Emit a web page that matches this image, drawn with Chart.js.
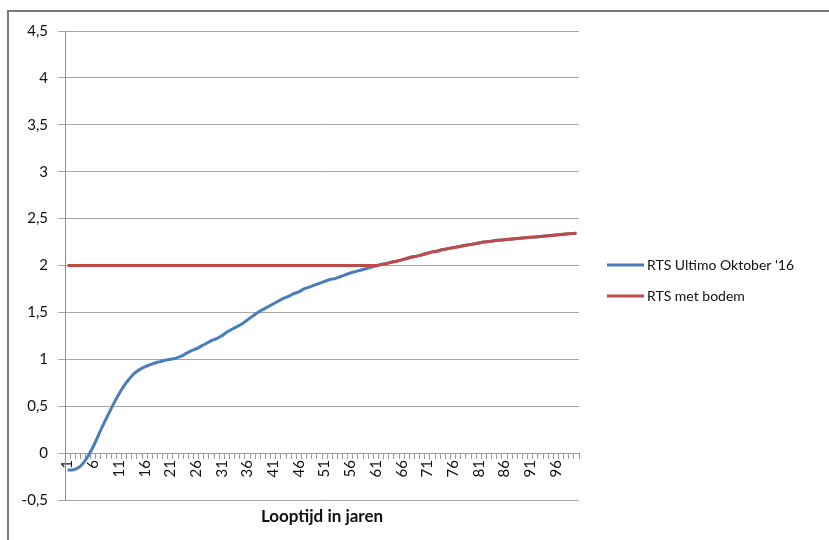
<!DOCTYPE html>
<html>
<head>
<meta charset="utf-8">
<script src="https://cdn.jsdelivr.net/npm/chart.js@4.4.1/dist/chart.umd.min.js"></script>
<style>
    html, body { margin: 0; padding: 0; background: #fff; }
    #wrap { position: relative; width: 829px; height: 540px; overflow: hidden; }
    #frame { position: absolute; left: 7px; top: 10px; width: 840px; height: 560px;
             border-left: 2px solid #7a7a7a; border-top: 2px solid #7a7a7a; }
    canvas { position: absolute; left: 0; top: 0; }
</style>
</head>
<body>
<div id="wrap">
    <div id="frame"></div>
    <canvas id="rtsChart" width="829" height="540"></canvas>
</div>
<script>
// Looptijd in jaren 1..100
const years = Array.from({length: 100}, (_, i) => String(i + 1));

const yTicks = [-0.5, 0, 0.5, 1, 1.5, 2, 2.5, 3, 3.5, 4, 4.5];

const rtsUltimo = [
    -0.18, -0.18, -0.16, -0.11, -0.03, 0.07, 0.19, 0.31, 0.42, 0.53,
    0.63, 0.72, 0.79, 0.85, 0.89, 0.92, 0.94, 0.96, 0.975, 0.99,
    1.00, 1.01, 1.03, 1.06, 1.09, 1.11, 1.14, 1.17, 1.20, 1.22,
    1.25, 1.29, 1.32, 1.35, 1.38, 1.42, 1.46, 1.50, 1.53, 1.56,
    1.59, 1.62, 1.65, 1.67, 1.70, 1.72, 1.75, 1.77, 1.79, 1.81,
    1.83, 1.85, 1.86, 1.88, 1.90, 1.92, 1.935, 1.95, 1.965, 1.98,
    1.995, 2.01, 2.02, 2.035, 2.045, 2.06, 2.075, 2.09, 2.10, 2.115,
    2.13, 2.145, 2.155, 2.17, 2.18, 2.19, 2.20, 2.21, 2.22, 2.23,
    2.24, 2.25, 2.255, 2.265, 2.27, 2.275, 2.28, 2.285, 2.29, 2.295,
    2.30, 2.305, 2.31, 2.315, 2.32, 2.325, 2.33, 2.335, 2.34, 2.345
];

const rtsBodem = [
    2, 2, 2, 2, 2, 2, 2, 2, 2, 2,
    2, 2, 2, 2, 2, 2, 2, 2, 2, 2,
    2, 2, 2, 2, 2, 2, 2, 2, 2, 2,
    2, 2, 2, 2, 2, 2, 2, 2, 2, 2,
    2, 2, 2, 2, 2, 2, 2, 2, 2, 2,
    2, 2, 2, 2, 2, 2, 2, 2, 2, 2,
    2, 2.01, 2.02, 2.035, 2.045, 2.06, 2.075, 2.09, 2.10, 2.115,
    2.13, 2.145, 2.155, 2.17, 2.18, 2.19, 2.20, 2.21, 2.22, 2.23,
    2.24, 2.25, 2.255, 2.265, 2.27, 2.275, 2.28, 2.285, 2.29, 2.295,
    2.30, 2.305, 2.31, 2.315, 2.32, 2.325, 2.33, 2.335, 2.34, 2.345
];

const fontFamily = "Lato, 'Open Sans', sans-serif";

// legend at the right and x axis title under the plot
const extraText = {
    id: 'extraText',
    afterDraw(chart) {
        const ctx = chart.ctx;
        const area = chart.chartArea;
        ctx.save();
        const rows = [265, 296];
        chart.data.datasets.forEach((ds, i) => {
            ctx.strokeStyle = ds.borderColor;
            ctx.lineWidth = 3;
            ctx.beginPath();
            ctx.moveTo(607, rows[i]);
            ctx.lineTo(644, rows[i]);
            ctx.stroke();
            ctx.fillStyle = '#111';
            ctx.font = '14px ' + fontFamily;
            ctx.textBaseline = 'middle';
            ctx.textAlign = 'left';
            ctx.fillText(ds.label, 647, rows[i]);
        });
        ctx.font = 'bold 17px ' + fontFamily;
        ctx.textAlign = 'center';
        ctx.textBaseline = 'middle';
        ctx.fillText('Looptijd in jaren', (area.left + area.right) / 2, 517);
        ctx.restore();
    }
};

new Chart(document.getElementById('rtsChart'), {
    type: 'line',
    data: {
        labels: years,
        datasets: [{
            label: "RTS Ultimo Oktober '16",
            data: rtsUltimo,
            borderColor: '#4a7ebb',
            borderWidth: 3,
            pointRadius: 0,
            tension: 0.3,
            order: 1
        }, {
            label: 'RTS met bodem',
            data: rtsBodem,
            borderColor: '#be4b48',
            borderWidth: 3,
            pointRadius: 0,
            tension: 0.3,
            order: 0
        }]
    },
    options: {
        responsive: false,
        animation: false,
        layout: {
            padding: { left: 0, right: 250, top: 31, bottom: 40 }
        },
        plugins: {
            legend: { display: false },
            tooltip: { enabled: false }
        },
        scales: {
            x: {
                type: 'category',
                position: { y: 0 },
                offset: true,
                grid: {
                    drawOnChartArea: false,
                    offset: true,
                    tickLength: 5,
                    color: '#9a9a9a'
                },
                border: { color: '#9a9a9a', width: 1 },
                ticks: {
                    autoSkip: false,
                    minRotation: 90,
                    maxRotation: 90,
                    padding: 2,
                    color: '#111',
                    font: { family: fontFamily, size: 15 },
                    callback: function (value, index) {
                        return index % 5 === 0 ? years[index] : '';
                    }
                }
            },
            y: {
                min: -0.5,
                max: 4.5,
                afterFit: function (scale) { scale.width = 65; },
                afterBuildTicks: function (scale) {
                    scale.ticks = yTicks.map(v => ({ value: v }));
                },
                grid: {
                    color: '#a6a6a6',
                    tickLength: 7
                },
                border: { color: '#8c8c8c', width: 1 },
                ticks: {
                    padding: 10,
                    color: '#111',
                    font: { family: fontFamily, size: 15 },
                    callback: function (value) {
                        return String(value).replace('.', ',');
                    }
                }
            }
        }
    },
    plugins: [extraText]
});
</script>
</body>
</html>
